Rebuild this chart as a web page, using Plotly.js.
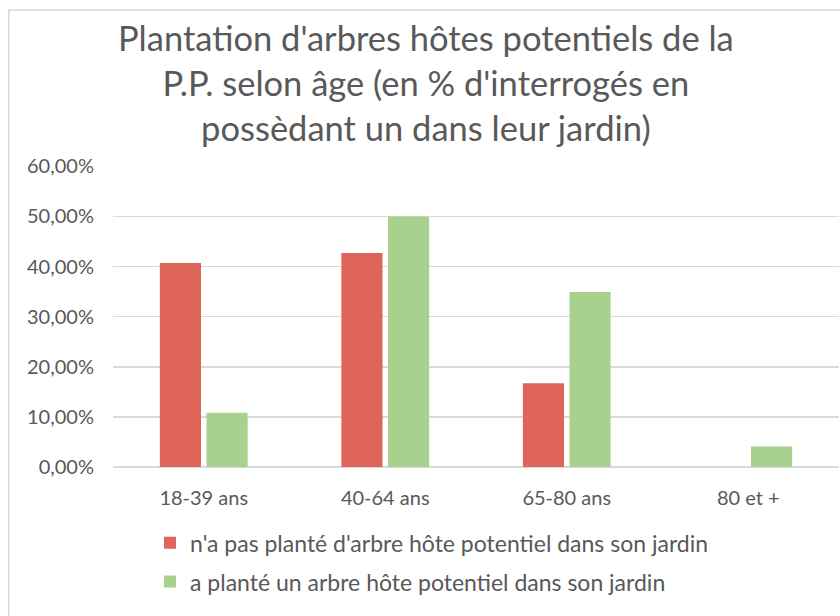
<!DOCTYPE html>
<html>
<head>
<meta charset="utf-8">
<script src="https://cdn.plot.ly/plotly-3.0.1.min.js"></script>
<style>html,body{margin:0;padding:0;background:#fff;}#chart{width:840px;height:616px;}</style>
</head>
<body>
<div id="chart"></div>
<script>
var categories = ["18-39 ans", "40-64 ans", "65-80 ans", "80 et +"];
var seriesNames = ["n'a pas planté d'arbre hôte potentiel dans son jardin", "a planté un arbre hôte potentiel dans son jardin"];
var notPlanted = [0.407, 0.427, 0.167, 0];
var planted = [0.108, 0.500, 0.349, 0.041];
var yTicks = [0, 0.1, 0.2, 0.3, 0.4, 0.5, 0.6];

var fontFam = "Lato, 'Liberation Sans', Arial, sans-serif";
var traces = [
  {type: "bar", x: categories, y: notPlanted, name: seriesNames[0], legendgroup: "a",
   marker: {color: "#DF6459", line: {width: 0}}, hoverinfo: "x+y"},
  {type: "bar", x: categories, y: planted, name: seriesNames[1], legendgroup: "b",
   marker: {color: "#A9D18E", line: {width: 0}}, hoverinfo: "x+y"}
];
var layout = {
  width: 840, height: 616,
  paper_bgcolor: "#ffffff", plot_bgcolor: "#ffffff",
  separators: ", ",
  margin: {l: 113, r: 1, t: 166, b: 149, pad: 0},
  font: {family: fontFam, color: "#595959", size: 20},
  title: {text: "Plantation d'arbres hôtes potentiels de la<br>P.P. selon âge (en % d'interrogés en<br>possèdant un dans leur jardin)",
          font: {family: fontFam, size: 34.5, color: "#595959"},
          x: 0.507, xanchor: "center", xref: "container", y: 0.917, yanchor: "top", yref: "container"},
  barmode: "group", bargap: 0.486, bargroupgap: 0.118,
  xaxis: {showgrid: false, showline: false, ticks: "", ticklabelstandoff: 17,
          tickfont: {size: 20, color: "#595959"}, fixedrange: true},
  yaxis: {range: [0, 0.6005], tickvals: yTicks, tickformat: ".2%", gridcolor: "#D9D9D9", gridwidth: 1.5,
          zeroline: true, zerolinecolor: "#D9D9D9", zerolinewidth: 1.5, showline: false, ticks: "",
          ticklabelstandoff: 18, tickfont: {size: 20, color: "#595959"}, automargin: false, fixedrange: true},
  showlegend: true,
  legend: {orientation: "v", x: 0.051, xanchor: "left", y: -0.18, yanchor: "top",
           traceorder: "grouped", tracegroupgap: 6, font: {size: 23, color: "#595959"},
           itemwidth: 30, bgcolor: "rgba(0,0,0,0)"},
  shapes: [{type: "rect", xref: "paper", yref: "paper", x0: -0.1436, x1: 1.2, y0: -1.0, y1: 1.518,
            line: {color: "#D9D9D9", width: 1.5}, fillcolor: "rgba(0,0,0,0)", layer: "below"}]
};
Plotly.newPlot("chart", traces, layout, {displayModeBar: false, staticPlot: true});
</script>
</body>
</html>
